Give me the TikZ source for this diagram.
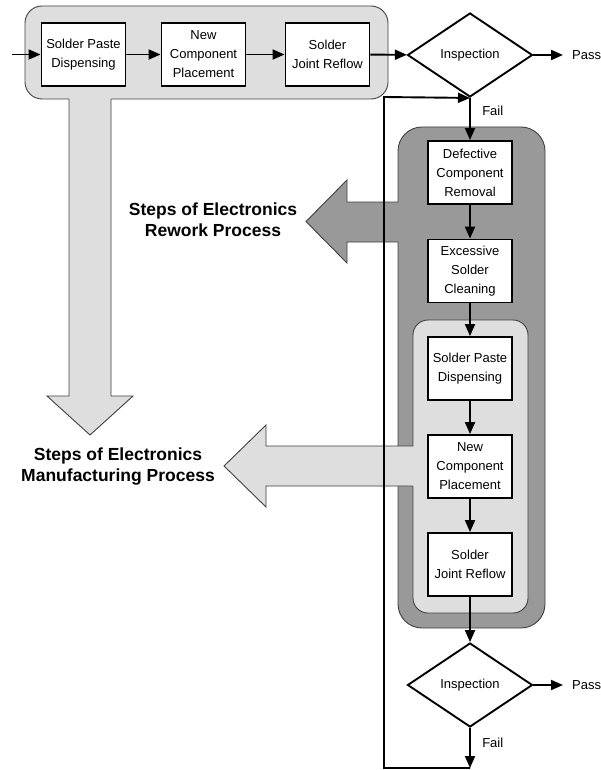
\documentclass[tikz,border=0pt]{standalone}
\usepackage{fontspec}
\setmainfont{Liberation Sans}
\usetikzlibrary{arrows.meta,shapes.geometric}
\definecolor{lightgr}{gray}{0.87}
\definecolor{darkgr}{gray}{0.6}
\tikzset{
  stepbox/.style={draw, fill=white, line width=1.9pt, minimum width=84pt, minimum height=63pt,
    inner sep=1pt, align=center, font=\fontsize{13}{19}\selectfont},
  decision/.style={draw, fill=white, diamond, aspect=1.49, line width=1.9pt, minimum width=125pt,
    minimum height=84pt, inner sep=0pt, font=\fontsize{13}{15}\selectfont},
  flow/.style={line width=1.9pt, -{Triangle[length=12pt,width=10pt]}},
  lbl/.style={font=\fontsize{13}{15}\selectfont},
  bigtext/.style={align=center, font=\bfseries\fontsize{17.5}{21}\selectfont},
  bigarrow/.style={draw=black!75, line width=0.9pt},
  group/.style={draw=black!75, line width=0.9pt}
}

\begin{document}
\begin{tikzpicture}[x=1pt, y=-1pt]
                \useasboundingbox (0,0) rectangle (600,770);
                \draw[group, fill=lightgr, rounded corners=17pt] (25,6) rectangle (388,99);
                \fill[lightgr] (69,97) -- (69,396) -- (47,396) -- (90,435) -- (133,396) -- (111,396) -- (111,97) -- cycle;
                \draw[bigarrow] (69,99) -- (69,396) -- (47,396) -- (90,435) -- (133,396) -- (111,396) -- (111,99);
                \draw[group, fill=darkgr, rounded corners=24pt] (398,127) rectangle (545,628);
                \fill[darkgr] (400,202) -- (347,202) -- (347,180) -- (306,221.5) -- (347,263) -- (347,242) -- (400,242) -- cycle;
                \draw[bigarrow] (398,202) -- (347,202) -- (347,180) -- (306,221.5) -- (347,263) -- (347,242) -- (398,242);
                \draw[group, fill=lightgr, rounded corners=15pt] (413,320) rectangle (528,613);
                \fill[lightgr] (415,446) -- (266,446) -- (266,425) -- (224,466) -- (266,507) -- (266,486) -- (415,486) -- cycle;
                \draw[bigarrow] (413,446) -- (266,446) -- (266,425) -- (224,466) -- (266,507) -- (266,486) -- (413,486);
                \node[bigtext] (rework) at (213,220) {Steps of Electronics\\Rework Process};
                \node[bigtext] (manuf) at (118,466.5) {Steps of Electronics\\Manufacturing Process};

                \node[stepbox] (paste1) at (83.5,54.5) {Solder Paste\\Dispensing};
                \node[stepbox] (place1) at (203.5,54.5) {New\\Component\\Placement};
                \node[stepbox] (reflow1) at (327.5,54.5) {Solder\\Joint Reflow};
                \node[decision] (insp1) at (470,55) {Inspection};
                \node[lbl, anchor=west, inner xsep=9pt] (pass1) at (563,55) {Pass};

                \node[stepbox] (defect) at (470,172.5) {Defective\\Component\\Removal};
                \node[stepbox] (clean) at (470,271) {Excessive\\Solder\\Cleaning};
                \node[stepbox] (paste2) at (470,368.5) {Solder Paste\\Dispensing};
                \node[stepbox] (place2) at (470,466.5) {New\\Component\\Placement};
                \node[stepbox] (reflow2) at (470,564.5) {Solder\\Joint Reflow};
                \node[decision] (insp2) at (470,685) {Inspection};
                \node[lbl, anchor=west, inner xsep=9pt] (pass2) at (563,685) {Pass};

                \coordinate (entry) at (12,54.5);
                \coordinate (loopend) at (470,768);
                \coordinate (loopcorner) at (384,97);
                \draw[flow] (entry) -- (paste1);
                \draw[flow] (paste1) -- (place1);
                \draw[flow] (place1) -- (reflow1);
                \draw[flow] (reflow1) -- (insp1);
                \draw[flow] (insp1) -- (pass1.west);
                \draw[flow] (insp1.south) -- node[lbl, right, pos=0.3, xshift=8pt] {Fail} (defect);
                \draw[flow] (defect) -- (clean);
                \draw[flow] (clean) -- (paste2);
                \draw[flow] (paste2) -- (place2);
                \draw[flow] (place2) -- (reflow2);
                \draw[flow] (reflow2) -- (insp2);
                \draw[flow] (insp2) -- (pass2.west);
                \draw[flow] (insp2.south) -- node[lbl, right, pos=0.37, xshift=8pt] {Fail} (loopend);
                \draw[flow] (loopend) -| (loopcorner) -- (insp1.south);
            \end{tikzpicture}
\end{document}
